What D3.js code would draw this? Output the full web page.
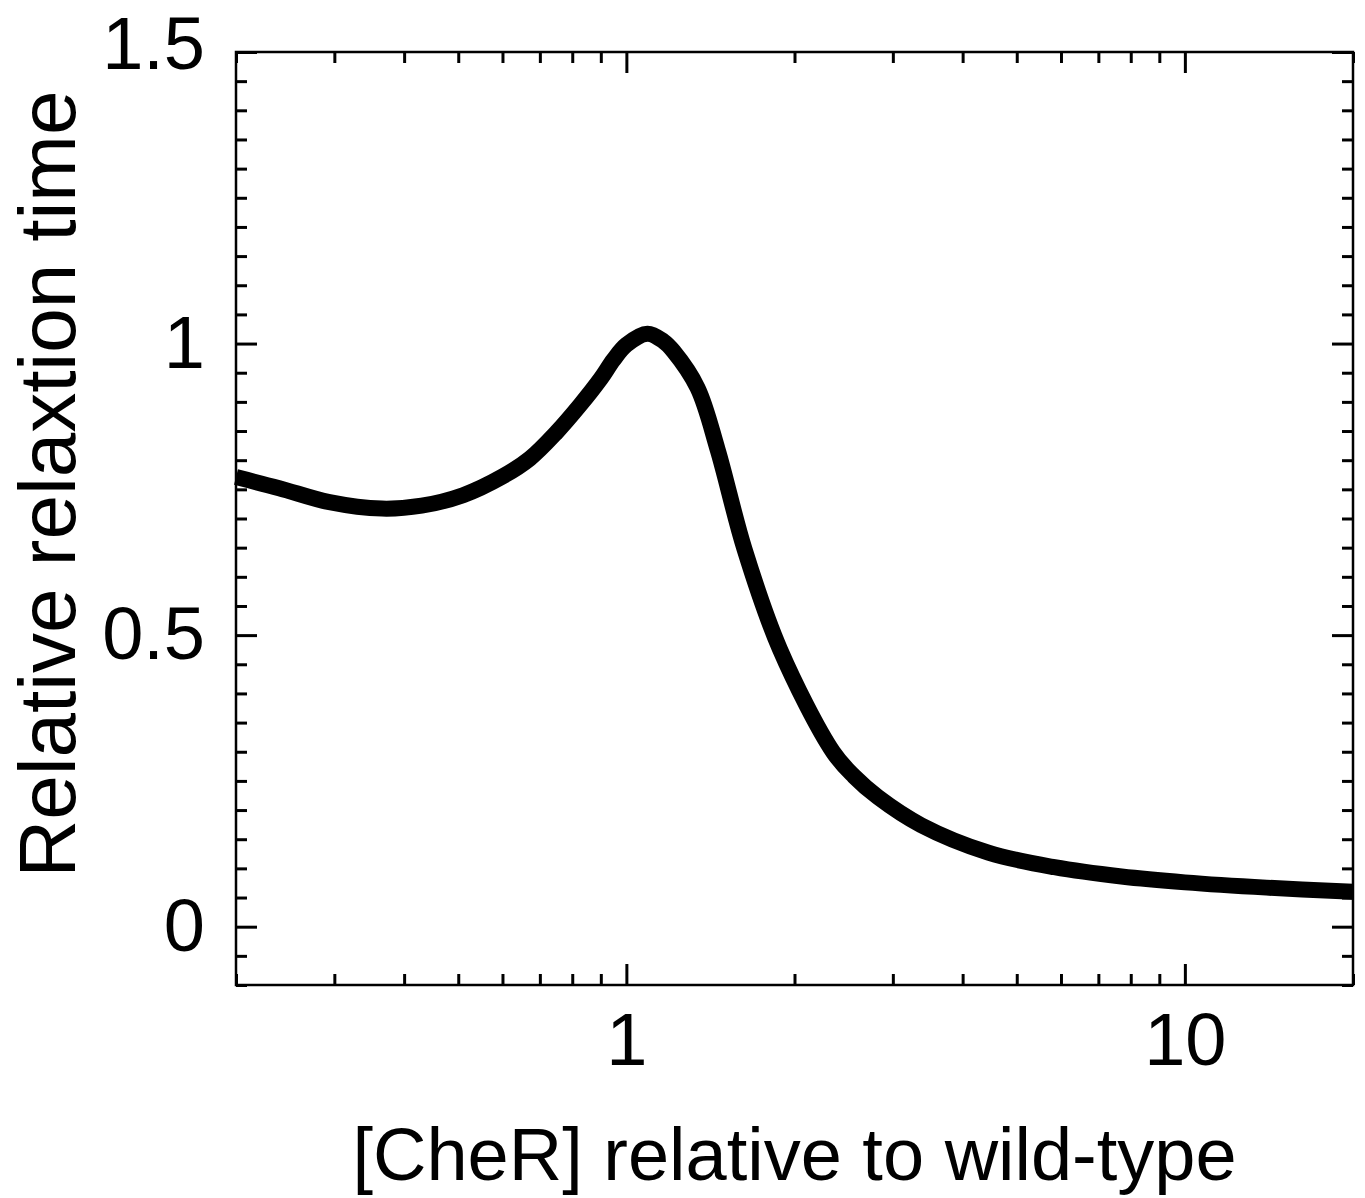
<!DOCTYPE html>
<html>
<head>
<meta charset="utf-8">
<script src="https://cdn.jsdelivr.net/npm/d3@7"></script>
<style>
  body { margin: 0; background: #fff; }
  text { font-family: "Liberation Sans", Arial, sans-serif; fill: #000; }
</style>
</head>
<body>
<div id="main"></div>
<script>
// [CheR] relative to wild-type (log axis)
const cherLevels = [0.2, 0.239, 0.294, 0.365, 0.43, 0.51, 0.6, 0.672, 0.75, 0.827,
  0.9, 0.948, 1.0, 1.091, 1.165, 1.214, 1.341, 1.457, 1.628, 1.883, 2.343,
  2.556, 2.822, 3.372, 4.447, 5.84, 7.7, 10, 14, 20];
// relative relaxation time
const relaxTimes = [0.771, 0.752, 0.728, 0.717, 0.722, 0.740, 0.772, 0.803, 0.848, 0.895,
  0.940, 0.972, 0.998, 1.017, 1.004, 0.987, 0.924, 0.818, 0.647, 0.476, 0.300,
  0.258, 0.222, 0.174, 0.127, 0.102, 0.086, 0.076, 0.067, 0.060];

const xMajorTicks = [1, 10];
const yMajorTicks = [0, 0.5, 1, 1.5];
const xDomain = [0.2, 20];
const yDomain = [-0.1, 1.5];
const xTitle = "[CheR] relative to wild-type";
const yTitle = "Relative relaxtion time";

function drawChart() {
  const width = 1365, height = 1198;
  const margin = { top: 52, right: 12, bottom: 213, left: 236 };
  const innerW = width - margin.left - margin.right;
  const innerH = height - margin.top - margin.bottom;

  const svg = d3.select("#main").append("svg")
    .attr("width", width)
    .attr("height", height);

  const g = svg.append("g")
    .attr("transform", `translate(${margin.left},${margin.top})`);

  const x = d3.scaleLog().domain(xDomain).range([0, innerW]);
  const y = d3.scaleLinear().domain(yDomain).range([innerH, 0]);

  const xMinor = x.ticks().filter((d) => !xMajorTicks.includes(d));
  const yMinor = y.ticks(32).filter((d) => !yMajorTicks.includes(d));

  function styleAxis(sel) {
    sel.select(".domain").remove();
    sel.selectAll(".tick line").attr("stroke", "#000").attr("stroke-width", 3);
    sel.selectAll("text")
      .attr("font-size", 74)
      .attr("font-family", '"Liberation Sans", Arial, sans-serif');
  }

  // bottom
  g.append("g").attr("transform", `translate(0,${innerH})`)
    .call(d3.axisBottom(x).tickValues(xMinor).tickSize(-11).tickFormat(""))
    .call(styleAxis);
  g.append("g").attr("transform", `translate(0,${innerH})`)
    .call(d3.axisBottom(x).tickValues(xMajorTicks).tickSize(-21).tickPadding(27)
      .tickFormat(d3.format("d")))
    .call(styleAxis);
  // top
  g.append("g")
    .call(d3.axisTop(x).tickValues(xMinor).tickSize(-11).tickFormat(""))
    .call(styleAxis);
  g.append("g")
    .call(d3.axisTop(x).tickValues(xMajorTicks).tickSize(-21).tickFormat(""))
    .call(styleAxis);
  // left
  g.append("g")
    .call(d3.axisLeft(y).tickValues(yMinor).tickSize(-11).tickFormat(""))
    .call(styleAxis);
  const yAxis = g.append("g")
    .call(d3.axisLeft(y).tickValues(yMajorTicks).tickSize(-21).tickPadding(31)
      .tickFormat((d) => String(d)))
    .call(styleAxis);
  yAxis.selectAll(".tick text")
    .filter((d) => d === 1.5)
    .attr("dy", "0.22em");
  // right
  g.append("g").attr("transform", `translate(${innerW},0)`)
    .call(d3.axisRight(y).tickValues(yMinor).tickSize(-11).tickFormat(""))
    .call(styleAxis);
  g.append("g").attr("transform", `translate(${innerW},0)`)
    .call(d3.axisRight(y).tickValues(yMajorTicks).tickSize(-21).tickFormat(""))
    .call(styleAxis);

  // frame
  g.append("rect")
    .attr("width", innerW)
    .attr("height", innerH)
    .attr("fill", "none")
    .attr("stroke", "#000")
    .attr("stroke-width", 2.5);

  const data = cherLevels.map((c, i) => ({ c, t: relaxTimes[i] }));

  const line = d3.line()
    .x((d) => x(d.c))
    .y((d) => y(d.t))
    .curve(d3.curveCatmullRom.alpha(0.5));

  g.append("path")
    .datum(data)
    .attr("fill", "none")
    .attr("stroke", "#000")
    .attr("stroke-width", 16)
    .attr("stroke-linejoin", "round")
    .attr("d", line);

  svg.append("text")
    .attr("x", margin.left + innerW / 2)
    .attr("y", 1180)
    .attr("text-anchor", "middle")
    .attr("font-size", 74)
    .text(xTitle);

  svg.append("text")
    .attr("transform", "translate(75,484) rotate(-90)")
    .attr("text-anchor", "middle")
    .attr("font-size", 80)
    .text(yTitle);
}

drawChart();
</script>
</body>
</html>
